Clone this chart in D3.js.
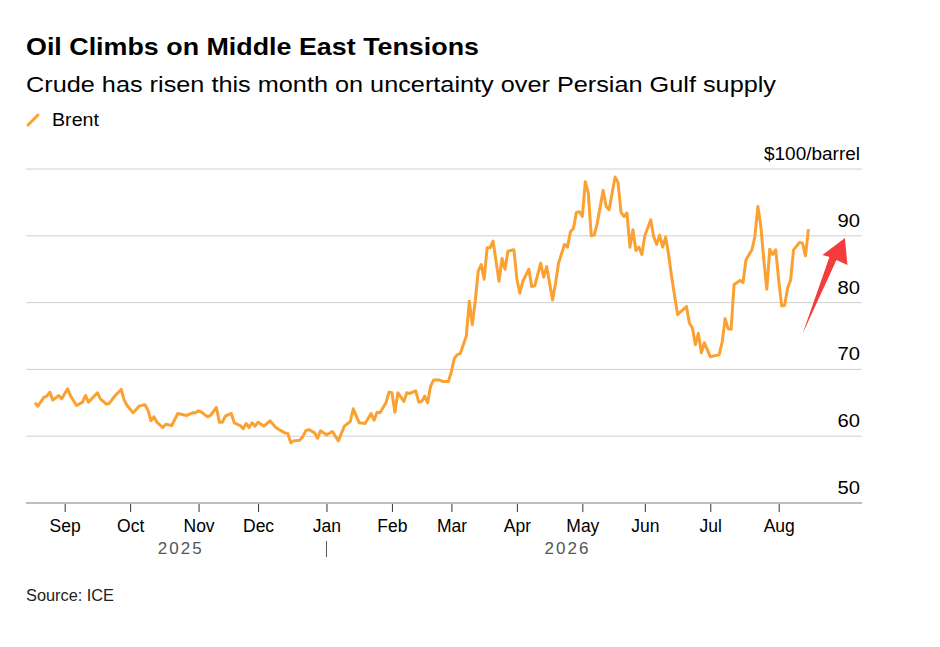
<!DOCTYPE html>
<html>
<head>
<meta charset="utf-8">
<script src="https://cdn.jsdelivr.net/npm/d3@7"></script>
<style>
  body { margin: 0; background: #fff; }
  svg { display: block; font-family: "Liberation Sans", Arial, sans-serif; }
</style>
</head>
<body>
<div id="vis"></div>
<script>
// Brent, daily close ($/barrel)
var dates = [
  "2025-08-18","2025-08-19","2025-08-21","2025-08-22","2025-08-25","2025-08-26","2025-08-28","2025-08-29",
  "2025-09-02","2025-09-03","2025-09-05","2025-09-09","2025-09-10","2025-09-11","2025-09-16","2025-09-17",
  "2025-09-19","2025-09-22","2025-09-24","2025-09-26","2025-09-29","2025-09-30",
  "2025-10-02","2025-10-06","2025-10-08","2025-10-09","2025-10-10","2025-10-13","2025-10-14","2025-10-16",
  "2025-10-17","2025-10-21","2025-10-23","2025-10-28","2025-10-30","2025-10-31",
  "2025-11-03","2025-11-04","2025-11-06","2025-11-07","2025-11-11","2025-11-12","2025-11-13","2025-11-14",
  "2025-11-18","2025-11-19","2025-11-21","2025-11-24","2025-11-25","2025-11-26","2025-11-27","2025-11-28",
  "2025-12-01","2025-12-03","2025-12-05","2025-12-09","2025-12-10","2025-12-12","2025-12-15","2025-12-16",
  "2025-12-17","2025-12-19","2025-12-22","2025-12-23","2025-12-24","2025-12-26","2025-12-29","2025-12-30",
  "2026-01-01","2026-01-05","2026-01-07","2026-01-09","2026-01-13","2026-01-14","2026-01-16","2026-01-20",
  "2026-01-22","2026-01-23","2026-01-26","2026-01-27","2026-01-29","2026-01-30",
  "2026-02-02","2026-02-03","2026-02-04","2026-02-06","2026-02-09","2026-02-10","2026-02-12","2026-02-13",
  "2026-02-16","2026-02-17","2026-02-18","2026-02-19","2026-02-20","2026-02-24","2026-02-25","2026-02-27",
  "2026-03-02","2026-03-03","2026-03-04","2026-03-05","2026-03-09","2026-03-10","2026-03-11","2026-03-12",
  "2026-03-13","2026-03-16","2026-03-17","2026-03-18","2026-03-19","2026-03-20","2026-03-24","2026-03-25",
  "2026-03-26","2026-03-27","2026-03-31",
  "2026-04-01","2026-04-02","2026-04-03","2026-04-07","2026-04-08","2026-04-09","2026-04-13","2026-04-14",
  "2026-04-15","2026-04-17","2026-04-20","2026-04-21","2026-04-23","2026-04-24","2026-04-27","2026-04-28",
  "2026-04-29","2026-04-30",
  "2026-05-01","2026-05-04","2026-05-05","2026-05-06","2026-05-07","2026-05-08","2026-05-12","2026-05-13",
  "2026-05-14","2026-05-18","2026-05-19","2026-05-20","2026-05-21","2026-05-22","2026-05-25","2026-05-26",
  "2026-05-27","2026-05-28","2026-05-29",
  "2026-06-01","2026-06-03","2026-06-04","2026-06-05","2026-06-08","2026-06-09","2026-06-10","2026-06-11",
  "2026-06-12","2026-06-16","2026-06-17","2026-06-19","2026-06-22","2026-06-23","2026-06-24","2026-06-25",
  "2026-06-26","2026-06-29",
  "2026-07-01","2026-07-03","2026-07-06","2026-07-07","2026-07-08","2026-07-09","2026-07-10","2026-07-13",
  "2026-07-15","2026-07-16","2026-07-17","2026-07-21","2026-07-22","2026-07-23","2026-07-24","2026-07-27",
  "2026-07-28","2026-07-29","2026-07-30","2026-07-31",
  "2026-08-03","2026-08-04","2026-08-05","2026-08-06","2026-08-07","2026-08-10","2026-08-12","2026-08-13",
  "2026-08-14","2026-08-17"
]
var brent = [
  65.0,64.5,65.8,66.0,66.6,65.4,66.1,65.6,
  67.1,66.0,64.6,65.1,66.1,65.1,66.5,65.6,
  64.8,64.9,66.1,67.0,65.4,64.6,
  63.5,64.5,64.7,63.9,62.3,62.9,62.1,61.3,
  61.8,61.6,63.4,63.1,63.5,63.5,
  63.8,63.6,62.9,63.1,64.3,62.1,62.1,63.0,
  63.4,62.0,61.6,61.1,61.9,61.3,62.0,61.5,
  62.1,61.5,62.3,61.3,61.0,60.5,60.4,59.0,
  59.3,59.4,59.9,60.8,61.0,60.5,59.7,60.8,
  60.2,60.7,59.3,61.5,62.2,64.1,62.0,61.9,
  63.4,62.4,63.6,63.5,65.0,66.6,
  66.5,63.6,66.5,65.2,66.5,66.4,66.8,65.1,
  65.2,66.0,65.0,67.5,68.4,68.4,68.2,68.2,
  69.7,71.7,72.2,72.4,75.0,80.2,76.7,80.2,
  84.7,85.7,83.5,88.2,88.2,89.2,83.2,86.6,
  85.0,87.7,87.9,
  83.5,81.4,83.2,85.0,82.4,82.5,85.9,83.8,
  85.4,80.4,82.9,85.9,88.7,88.3,90.6,91.1,
  93.5,93.6,
  92.9,98.1,96.4,90.0,90.1,91.9,96.8,94.4,
  93.9,98.8,98.0,93.5,92.9,93.4,88.3,90.9,
  87.8,88.3,87.2,
  90.0,92.4,89.8,88.7,90.1,88.3,89.8,87.2,
  83.9,78.2,78.6,79.4,76.9,76.2,73.7,75.4,
  72.5,74.0,
  71.9,72.1,72.2,74.1,77.6,76.1,76.0,82.7,
  83.3,83.0,86.4,87.9,89.9,94.4,91.4,86.4,
  82.0,88.0,87.2,87.9,
  83.4,79.5,79.6,82.2,83.4,87.9,89.0,88.9,
  87.0,91.0
]
var yTicks = [50, 60, 70, 80, 90, 100]
var monthTicks = ["2025-09-01","2025-10-01","2025-11-03","2025-12-01","2026-01-01","2026-02-02",
                  "2026-03-02","2026-04-01","2026-05-01","2026-06-01","2026-07-01","2026-08-03"]
var monthLabels = ["Sep","Oct","Nov","Dec","Jan","Feb","Mar","Apr","May","Jun","Jul","Aug"]
var years = ["2025", "2026"]

var parse = d3.utcParse("%Y-%m-%d")
var data = dates.map((d, i) => ({date: parse(d), value: brent[i]}))

// the x axis runs on trading days (weekends skipped)
var base = parse(monthTicks[0])
var isWeekday = d => d.getUTCDay() % 6 !== 0
function tday(d) {
  if (d >= base) return d3.utcDays(base, d).filter(isWeekday).length
  return -d3.utcDays(d, base).filter(isWeekday).length
}

var width = 940, height = 647
var plotLeft = 26, plotRight = 862, plotTop = 169, plotBottom = 503

var x = d3.scaleLinear()
  .domain([-13, 268])
  .range([plotLeft, plotRight])

var y = d3.scaleLinear()
  .domain([50, 100])
  .range([plotBottom, plotTop])

var svg = d3.select("#vis")
  .append("svg")
  .attr("width", width)
  .attr("height", height)

svg.append("text")
  .attr("x", 26).attr("y", 55)
  .attr("font-size", "24px").attr("font-weight", "bold").attr("fill", "#000")
  .attr("textLength", 453).attr("lengthAdjust", "spacingAndGlyphs")
  .text("Oil Climbs on Middle East Tensions")

svg.append("text")
  .attr("x", 26).attr("y", 92)
  .attr("font-size", "21.5px").attr("fill", "#000")
  .attr("textLength", 750).attr("lengthAdjust", "spacingAndGlyphs")
  .text("Crude has risen this month on uncertainty over Persian Gulf supply")

// legend
svg.append("line")
  .attr("x1", 28).attr("y1", 125).attr("x2", 38).attr("y2", 115)
  .style("stroke", "#fba132").style("stroke-width", "3px").style("stroke-linecap", "round")
svg.append("text")
  .attr("x", 52).attr("y", 126)
  .attr("font-size", "17.5px").attr("fill", "#000")
  .attr("textLength", 47).attr("lengthAdjust", "spacingAndGlyphs")
  .text("Brent")

// grid + y labels
svg.append("g").selectAll("line")
  .data(yTicks)
  .enter().append("line")
  .attr("x1", plotLeft).attr("x2", plotRight)
  .attr("y1", d => y(d)).attr("y2", d => y(d))
  .style("stroke", d => d === 50 ? "#bdbdbd" : "#d0d0d0")
  .style("stroke-width", d => d === 50 ? "2px" : "1px")

svg.append("g").selectAll("text")
  .data(yTicks)
  .enter().append("text")
  .attr("x", 860)
  .attr("y", d => y(d) - 9)
  .attr("text-anchor", "end")
  .attr("font-size", "17.5px").attr("fill", "#000")
  .attr("textLength", d => d === 100 ? 96 : 22.5).attr("lengthAdjust", "spacingAndGlyphs")
  .text(d => d === 100 ? "$100/barrel" : d)

// x axis
var xAxis = svg.append("g")
  .attr("transform", `translate(0,${plotBottom + 1})`)
  .call(d3.axisBottom(x)
    .tickValues(monthTicks.map(d => tday(parse(d))))
    .tickFormat((d, i) => monthLabels[i])
    .tickSize(8)
    .tickPadding(8))
xAxis.select(".domain").remove()
xAxis.selectAll("line").style("stroke", "#333")
xAxis.selectAll("text")
  .attr("fill", "#000")
  .style("font-size", "17.5px")
  .style("font-family", "'Liberation Sans', Arial, sans-serif")

// year labels
var first = tday(data[0].date), last = tday(data[data.length - 1].date)
var jan = tday(parse("2026-01-01"))
svg.append("g").selectAll("text")
  .data(years)
  .enter().append("text")
  .attr("x", (d, i) => i === 0 ? x((first + jan) / 2) : x((jan + last) / 2))
  .attr("y", 554)
  .attr("text-anchor", "middle")
  .attr("font-size", "17px").attr("fill", "#555").style("letter-spacing", "2px")
  .text(d => d)
svg.append("line")
  .attr("x1", x(jan)).attr("x2", x(jan))
  .attr("y1", 541).attr("y2", 557)
  .style("stroke", "#555").style("stroke-width", "1px")

// the line
var line = d3.line()
  .x(d => x(tday(d.date)))
  .y(d => y(d.value))

svg.append("path")
  .datum(data)
  .attr("d", line)
  .style("fill", "none")
  .style("stroke", "#fba132")
  .style("stroke-width", "3px")
  .style("stroke-linejoin", "round")

// red arrow annotation pointing at the latest level
var ax = x(last), ay = y(data[data.length - 1].value)
var arrow = [
  [ax - 6, ay + 105],
  [ax + 28, ay + 31],
  [ax + 39, ay + 36],
  [ax + 36.5, ay + 9],
  [ax + 14, ay + 26],
  [ax + 21, ay + 28]
]
svg.append("path")
  .attr("d", d3.line()(arrow) + "Z")
  .style("fill", "#f53c3c")

svg.append("text")
  .attr("x", 26).attr("y", 601)
  .attr("font-size", "16px").attr("fill", "#222")
  .attr("textLength", 88).attr("lengthAdjust", "spacingAndGlyphs")
  .text("Source: ICE")
</script>
</body>
</html>
